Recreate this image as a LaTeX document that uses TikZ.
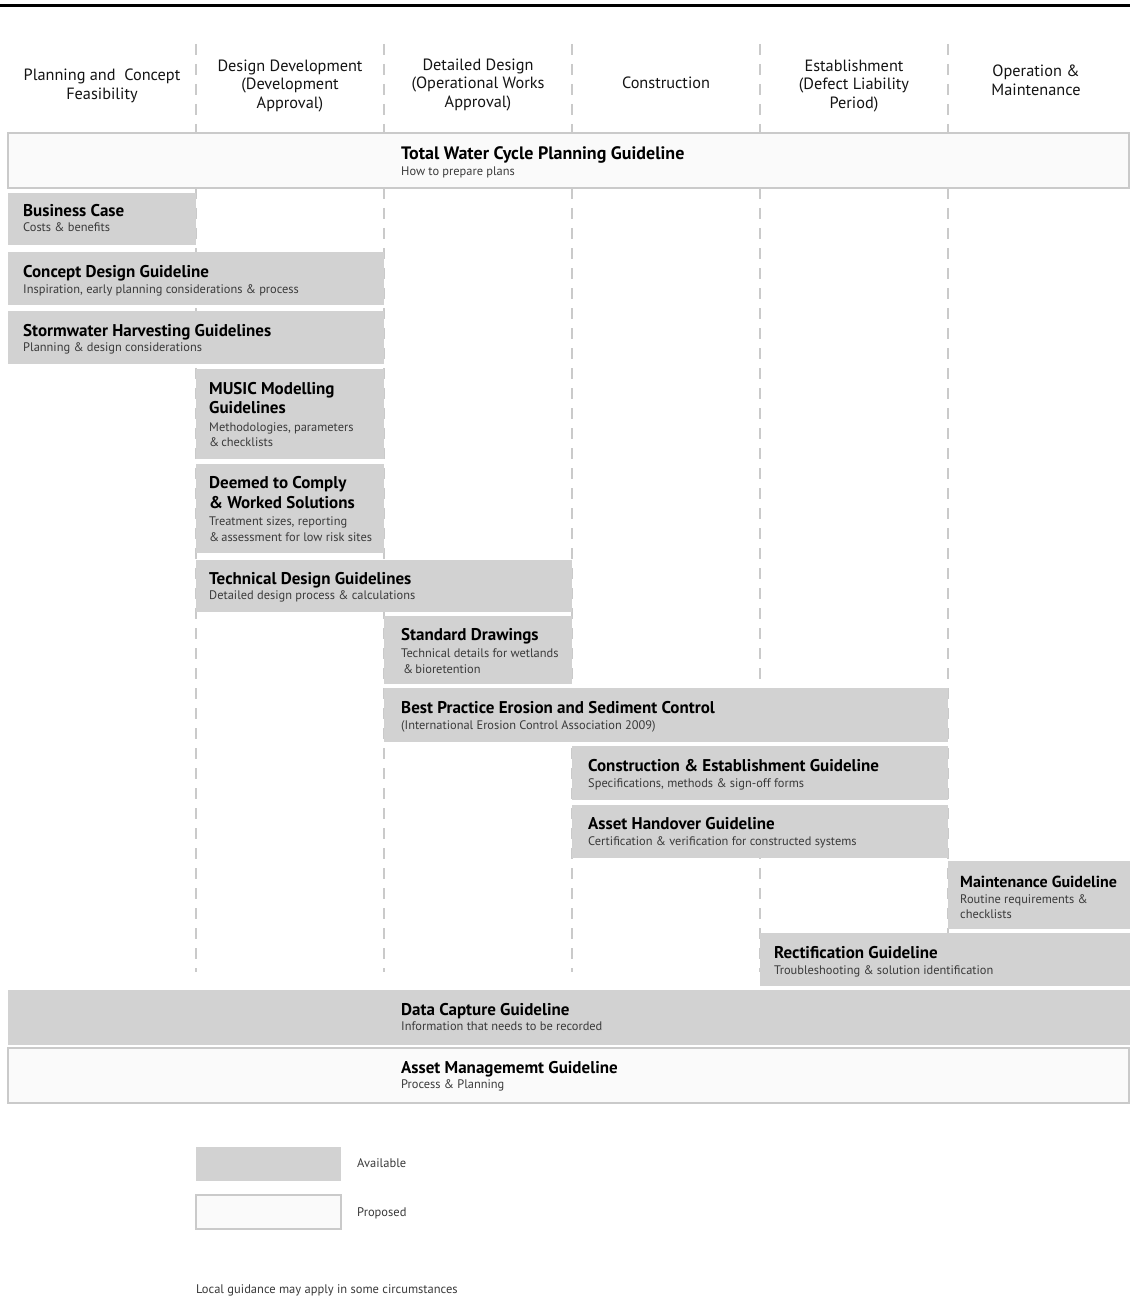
\documentclass[tikz,border=0pt]{standalone}
\usepackage{fontspec}
\setmainfont{PT Sans}
\definecolor{boxgray}{HTML}{D2D2D2}
\definecolor{linegray}{HTML}{CACACA}
\definecolor{subtext}{HTML}{3A3A3A}
\tikzset{
  gbox/.style={fill=boxgray, draw=none, inner sep=0pt, outer sep=0pt, anchor=north west},
  pbox/.style={fill=white!98!black, draw=linegray, line width=1.2pt, inner sep=0pt, outer sep=0pt, anchor=north west},
  ttl/.style={anchor=base west, inner sep=0pt, font=\fontsize{17}{20}\selectfont\bfseries, text=black},
  sub/.style={anchor=base west, inner sep=0pt, font=\fontsize{12.4}{14}\selectfont, text=subtext},
  hdr/.style={align=center, inner sep=0pt, font=\fontsize{16.3}{18.8}\selectfont, text=black!92},
  colsep/.style={draw=linegray, line width=1.3pt, dash pattern=on 11pt off 9pt},
  leg/.style={anchor=base west, inner sep=0pt, font=\fontsize{12.5}{14}\selectfont, text=subtext}
}
\begin{document}
\begin{tikzpicture}[x=1pt,y=-1pt]
\useasboundingbox (0,0) rectangle (1130,1297);
\clip (0,0) rectangle (1130,1297);
\fill[white] (0,0) rectangle (1130,1297);
% top rule
\coordinate (rl) at (0,6);
\coordinate (rr) at (1130,6);
\draw[line width=3pt] (rl) -- (rr);
% column separators
\foreach \x/\n in {196/a,384/b,572/c,760/d,948/e}{
  \coordinate (ht\n) at (\x,44);
  \coordinate (hb\n) at (\x,133);
  \coordinate (bt\n) at (\x,188);
  \coordinate (bb\n) at (\x,972);
  \draw[colsep] (ht\n) -- (hb\n);
  \draw[colsep] (bt\n) -- (bb\n);
}
% headers
\node[hdr] (h1) at (102,85.5) {Planning and\ \ Concept\\Feasibility};
\node[hdr] (h2) at (290,86) {Design Development\\(Development\\Approval)};
\node[hdr] (h3) at (478,85) {Detailed Design\\(Operational Works\\Approval)};
\node[hdr] (h4) at (666,83) {Construction};
\node[hdr] (h5) at (854,86) {Establishment\\(Defect Liability\\Period)};
\node[hdr] (h6) at (1036,80.5) {Operation \&\\Maintenance};
% proposed: total water cycle
\node[pbox, minimum width=1121, minimum height=55] (tw) at (8,133) {};
\node[ttl, font=\fontsize{18}{21}\selectfont\bfseries] (twt) at (401,160) {Total Water Cycle Planning Guideline};
\node[sub] (tws) at (401,176) {How to prepare plans};
% business case
\node[gbox, minimum width=188, minimum height=52] (bc) at (8,193) {};
\node[ttl] (bct) at (23,217) {Business Case};
\node[sub] (bcs) at (23,232) {Costs \& benefits};
% concept design
\node[gbox, minimum width=376, minimum height=53] (cd) at (8,252) {};
\node[ttl] (cdt) at (23,277) {Concept Design Guideline};
\node[sub] (cds) at (23,293) {Inspiration, early planning considerations \& process};
% stormwater
\node[gbox, minimum width=376, minimum height=53] (sh) at (8,311) {};
\node[ttl] (sht) at (23,336) {Stormwater Harvesting Guidelines};
\node[sub] (shs) at (23,351) {Planning \& design considerations};
% MUSIC
\node[gbox, minimum width=188, minimum height=90] (mm) at (196,369) {};
\node[ttl] (mmt1) at (209,394) {MUSIC Modelling};
\node[ttl] (mmt2) at (209,413) {Guidelines};
\node[sub] (mms1) at (209,431) {Methodologies, parameters};
\node[sub] (mms2) at (209,446) {\&\,checklists};
% deemed to comply
\node[gbox, minimum width=188, minimum height=89] (dc) at (196,464) {};
\node[ttl] (dct1) at (209,488) {Deemed to Comply};
\node[ttl] (dct2) at (209,508) {\& Worked Solutions};
\node[sub] (dcs1) at (209,525) {Treatment sizes, reporting};
\node[sub] (dcs2) at (209,541) {\&\,assessment for low risk sites};
% technical design
\node[gbox, minimum width=376, minimum height=52] (td) at (196,560) {};
\node[ttl] (tdt) at (209,584) {Technical Design Guidelines};
\node[sub] (tds) at (209,599) {Detailed design process \& calculations};
% standard drawings
\node[gbox, minimum width=188, minimum height=68] (sd) at (384,616) {};
\node[ttl] (sdt) at (401,640) {Standard Drawings};
\node[sub] (sds1) at (401,657) {Technical details for wetlands};
\node[sub] (sds2) at (403,673) {\&\,bioretention};
% best practice
\node[gbox, minimum width=564, minimum height=54] (bp) at (384,688) {};
\node[ttl] (bpt) at (401,713) {Best Practice Erosion and Sediment Control};
\node[sub] (bps) at (401,729) {(International Erosion Control Association 2009)};
% construction & establishment
\node[gbox, minimum width=376, minimum height=54] (ce) at (572,746) {};
\node[ttl] (cet) at (588,771) {Construction \& Establishment Guideline};
\node[sub] (ces) at (588,787) {Specifications, methods \& sign-off forms};
% asset handover
\node[gbox, minimum width=376, minimum height=53] (ah) at (572,805) {};
\node[ttl] (aht) at (588,829) {Asset Handover Guideline};
\node[sub] (ahs) at (588,845) {Certification \& verification for constructed systems};
% maintenance
\node[gbox, minimum width=182, minimum height=68] (mg) at (948,861) {};
\node[ttl, font=\fontsize{16}{19}\selectfont\bfseries] (mgt) at (960,887) {Maintenance Guideline};
\node[sub] (mgs1) at (960,903) {Routine requirements \&};
\node[sub] (mgs2) at (960,918) {checklists};
% rectification
\node[gbox, minimum width=370, minimum height=53] (rg) at (760,933) {};
\node[ttl] (rgt) at (774,958) {Rectification Guideline};
\node[sub] (rgs) at (774,974) {Troubleshooting \& solution identification};
% data capture
\node[gbox, minimum width=1122, minimum height=55] (dcap) at (8,990) {};
\node[ttl] (dcapt) at (401,1015) {Data Capture Guideline};
\node[sub] (dcaps) at (401,1030) {Information that needs to be recorded};
% asset management (proposed)
\node[pbox, minimum width=1121, minimum height=55] (am) at (8,1048) {};
\node[ttl] (amt) at (401,1073) {Asset Managememt Guideline};
\node[sub] (ams) at (401,1088) {Process \& Planning};
% legend
\node[gbox, minimum width=145, minimum height=34] (la) at (196,1147) {};
\node[leg] (lat) at (357,1167) {Available};
\node[pbox, minimum width=145, minimum height=34] (lp) at (196,1195) {};
\node[leg] (lpt) at (357,1216) {Proposed};
% footer
\node[leg] (foot) at (196,1293) {Local guidance may apply in some circumstances};
\end{tikzpicture}
\end{document}
